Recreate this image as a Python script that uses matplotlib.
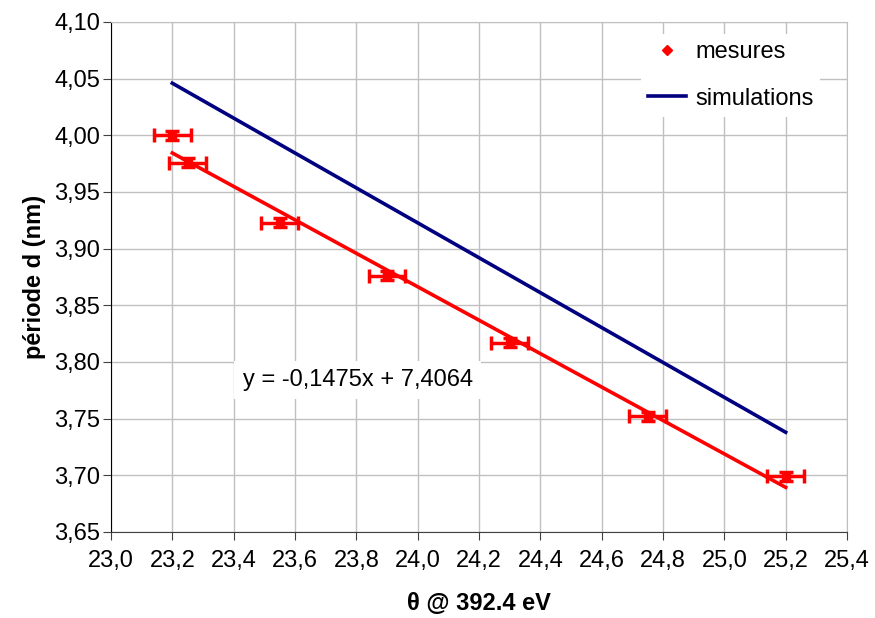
import matplotlib
matplotlib.use('Agg')
import matplotlib.pyplot as plt
from matplotlib.ticker import FuncFormatter, MultipleLocator

plt.rcParams['font.family'] = ['Liberation Sans', 'DejaVu Sans']

# Dados
theta = [23.2, 23.25, 23.55, 23.9, 24.3, 24.75, 25.2]
periode = [4.000, 3.976, 3.923, 3.876, 3.817, 3.752, 3.699]
err_x = 0.06
err_y = 0.004

sim_theta = [23.2, 25.2]
sim_periode = [4.046, 3.738]

# droite de régression
pente = -0.1475
origine = 7.4064
fit_x = [23.2, 25.2]
fit_y = [pente * v + origine for v in fit_x]

fig = plt.figure(figsize=(8.75, 6.18), dpi=100)
ax = fig.add_axes([111 / 875, 1 - 532 / 618, (847 - 111) / 875, (532 - 22) / 618])

ax.plot(sim_theta, sim_periode, color='#000080', lw=2.6, label='simulations', zorder=3)
ax.plot(fit_x, fit_y, color='#ff0000', lw=2.6, zorder=3)
ax.errorbar(theta, periode, xerr=err_x, yerr=err_y, fmt='s', ms=6, color='#ff0000',
            ecolor='#ff0000', elinewidth=2.5, capsize=5, capthick=2.5, zorder=4)
ax.plot([], [], 'D', ms=5, color='#ff0000', label='mesures')

ax.set_xlim(23.0, 25.4)
ax.set_ylim(3.65, 4.10)
ax.xaxis.set_major_locator(MultipleLocator(0.2))
ax.yaxis.set_major_locator(MultipleLocator(0.05))
ax.xaxis.set_major_formatter(FuncFormatter(lambda v, p: f'{v:.1f}'.replace('.', ',')))
ax.yaxis.set_major_formatter(FuncFormatter(lambda v, p: f'{v:.2f}'.replace('.', ',')))
ax.grid(True, color='#c0c0c0', lw=1)
ax.set_axisbelow(True)

for s in ['top', 'right']:
    ax.spines[s].set_color('#c0c0c0')
ax.spines['left'].set_color('black')
ax.spines['bottom'].set_color('#404040')
ax.tick_params(axis='both', labelsize=17, length=6, direction='out', color='#404040')
ax.tick_params(axis='x', pad=7)
ax.tick_params(axis='y', pad=2)

ax.set_xlabel('θ @ 392.4 eV', fontsize=17, fontweight='bold', labelpad=14)
ax.set_ylabel('période d (nm)', fontsize=17, fontweight='bold', labelpad=6)

# Legenda
h, l = ax.get_legend_handles_labels()
leg = ax.legend([h[1], h[0]], [l[1], l[0]], loc='upper right', bbox_to_anchor=(0.98, 1.0),
                fontsize=17, frameon=True, fancybox=False, edgecolor='none',
                facecolor='white', framealpha=1, handlelength=1.6, handletextpad=0.4,
                labelspacing=1.05, borderpad=0.3)

ax.text(0.179, 0.298, 'y = -0,1475x + 7,4064', transform=ax.transAxes, fontsize=17,
        va='center', bbox=dict(facecolor='white', edgecolor='none', pad=6), zorder=5)

fig.savefig('out.png', dpi=100)
